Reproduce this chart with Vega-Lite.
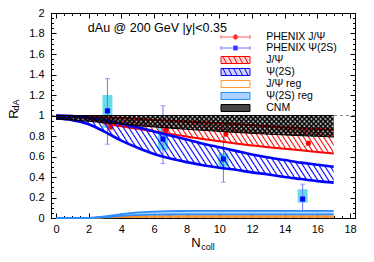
{
"$schema":"https://vega.github.io/schema/vega-lite/v6.json",
"width":304,"height":205,
"autosize":{"type":"none"},
"padding":{"left":51,"top":13,"right":19,"bottom":44},
"background":"white",
"datasets":{
"phenix":[
{"series":"PHENIX J/Ψ","ncoll":3.35,"val":0.89,"statlo":0.86,"stathi":0.92},
{"series":"PHENIX J/Ψ","ncoll":6.75,"val":0.86,"statlo":0.83,"stathi":0.89},
{"series":"PHENIX J/Ψ","ncoll":10.4,"val":0.82,"statlo":0.8,"stathi":0.84},
{"series":"PHENIX J/Ψ","ncoll":15.45,"val":0.73,"statlo":0.71,"stathi":0.75},
{"series":"PHENIX Ψ(2S)","ncoll":3.15,"val":1.045,"statlo":0.72,"stathi":1.36,"syslo":0.88,"syshi":1.2},
{"series":"PHENIX Ψ(2S)","ncoll":6.55,"val":0.77,"statlo":0.53,"stathi":1.095,"syslo":0.66,"syshi":0.89},
{"series":"PHENIX Ψ(2S)","ncoll":10.25,"val":0.575,"statlo":0.35,"stathi":0.79,"syslo":0.5,"syshi":0.63},
{"series":"PHENIX Ψ(2S)","ncoll":15.1,"val":0.185,"statlo":0.03,"stathi":0.33,"syslo":0.15,"syshi":0.28}
],
"bands":[
{"band":"J/Ψ","ncoll":0,"lo":0.99,"hi":1},
{"band":"J/Ψ","ncoll":1,"lo":0.985,"hi":0.995},
{"band":"J/Ψ","ncoll":2,"lo":0.965,"hi":0.99},
{"band":"J/Ψ","ncoll":3,"lo":0.925,"hi":0.982},
{"band":"J/Ψ","ncoll":4,"lo":0.895,"hi":0.975},
{"band":"J/Ψ","ncoll":5,"lo":0.87,"hi":0.966},
{"band":"J/Ψ","ncoll":6,"lo":0.845,"hi":0.957},
{"band":"J/Ψ","ncoll":7,"lo":0.82,"hi":0.949},
{"band":"J/Ψ","ncoll":8,"lo":0.795,"hi":0.941},
{"band":"J/Ψ","ncoll":9,"lo":0.77,"hi":0.933},
{"band":"J/Ψ","ncoll":10,"lo":0.748,"hi":0.925},
{"band":"J/Ψ","ncoll":11,"lo":0.727,"hi":0.916},
{"band":"J/Ψ","ncoll":12,"lo":0.708,"hi":0.906},
{"band":"J/Ψ","ncoll":13,"lo":0.69,"hi":0.896},
{"band":"J/Ψ","ncoll":14,"lo":0.675,"hi":0.886},
{"band":"J/Ψ","ncoll":15,"lo":0.66,"hi":0.877},
{"band":"J/Ψ","ncoll":16,"lo":0.645,"hi":0.868},
{"band":"J/Ψ","ncoll":17,"lo":0.63,"hi":0.86},
{"band":"Ψ(2S)","ncoll":0,"lo":0.97,"hi":1},
{"band":"Ψ(2S)","ncoll":1,"lo":0.955,"hi":0.995},
{"band":"Ψ(2S)","ncoll":2,"lo":0.915,"hi":0.98},
{"band":"Ψ(2S)","ncoll":3,"lo":0.84,"hi":0.955},
{"band":"Ψ(2S)","ncoll":4,"lo":0.755,"hi":0.92},
{"band":"Ψ(2S)","ncoll":5,"lo":0.685,"hi":0.885},
{"band":"Ψ(2S)","ncoll":6,"lo":0.625,"hi":0.845},
{"band":"Ψ(2S)","ncoll":7,"lo":0.58,"hi":0.805},
{"band":"Ψ(2S)","ncoll":8,"lo":0.545,"hi":0.765},
{"band":"Ψ(2S)","ncoll":9,"lo":0.515,"hi":0.725},
{"band":"Ψ(2S)","ncoll":10,"lo":0.49,"hi":0.69},
{"band":"Ψ(2S)","ncoll":11,"lo":0.47,"hi":0.655},
{"band":"Ψ(2S)","ncoll":12,"lo":0.445,"hi":0.62},
{"band":"Ψ(2S)","ncoll":13,"lo":0.425,"hi":0.59},
{"band":"Ψ(2S)","ncoll":14,"lo":0.4,"hi":0.565},
{"band":"Ψ(2S)","ncoll":15,"lo":0.38,"hi":0.54},
{"band":"Ψ(2S)","ncoll":16,"lo":0.36,"hi":0.52},
{"band":"Ψ(2S)","ncoll":17,"lo":0.345,"hi":0.5},
{"band":"CNM","ncoll":0,"lo":0.965,"hi":1},
{"band":"CNM","ncoll":1,"lo":0.955,"hi":1},
{"band":"CNM","ncoll":2,"lo":0.943,"hi":1},
{"band":"CNM","ncoll":3,"lo":0.93,"hi":1},
{"band":"CNM","ncoll":4,"lo":0.915,"hi":1},
{"band":"CNM","ncoll":5,"lo":0.9,"hi":1},
{"band":"CNM","ncoll":6,"lo":0.888,"hi":1},
{"band":"CNM","ncoll":7,"lo":0.876,"hi":1},
{"band":"CNM","ncoll":8,"lo":0.865,"hi":1},
{"band":"CNM","ncoll":9,"lo":0.855,"hi":1},
{"band":"CNM","ncoll":10,"lo":0.845,"hi":1},
{"band":"CNM","ncoll":11,"lo":0.835,"hi":1},
{"band":"CNM","ncoll":12,"lo":0.826,"hi":1},
{"band":"CNM","ncoll":13,"lo":0.818,"hi":1},
{"band":"CNM","ncoll":14,"lo":0.81,"hi":1},
{"band":"CNM","ncoll":15,"lo":0.803,"hi":1},
{"band":"CNM","ncoll":16,"lo":0.797,"hi":1},
{"band":"CNM","ncoll":17,"lo":0.79,"hi":1},
{"band":"J/Ψ reg","ncoll":0,"lo":0,"hi":0},
{"band":"J/Ψ reg","ncoll":1,"lo":0,"hi":0},
{"band":"J/Ψ reg","ncoll":2,"lo":0,"hi":0.001},
{"band":"J/Ψ reg","ncoll":3,"lo":0.003,"hi":0.006},
{"band":"J/Ψ reg","ncoll":4,"lo":0.006,"hi":0.013},
{"band":"J/Ψ reg","ncoll":5,"lo":0.008,"hi":0.017},
{"band":"J/Ψ reg","ncoll":6,"lo":0.009,"hi":0.019},
{"band":"J/Ψ reg","ncoll":7,"lo":0.01,"hi":0.02},
{"band":"J/Ψ reg","ncoll":8,"lo":0.01,"hi":0.02},
{"band":"J/Ψ reg","ncoll":9,"lo":0.01,"hi":0.02},
{"band":"J/Ψ reg","ncoll":10,"lo":0.01,"hi":0.02},
{"band":"J/Ψ reg","ncoll":11,"lo":0.01,"hi":0.02},
{"band":"J/Ψ reg","ncoll":12,"lo":0.01,"hi":0.02},
{"band":"J/Ψ reg","ncoll":13,"lo":0.01,"hi":0.02},
{"band":"J/Ψ reg","ncoll":14,"lo":0.01,"hi":0.02},
{"band":"J/Ψ reg","ncoll":15,"lo":0.01,"hi":0.02},
{"band":"J/Ψ reg","ncoll":16,"lo":0.01,"hi":0.02},
{"band":"J/Ψ reg","ncoll":17,"lo":0.01,"hi":0.02},
{"band":"Ψ(2S) reg","ncoll":0,"lo":0,"hi":0},
{"band":"Ψ(2S) reg","ncoll":1,"lo":0,"hi":0},
{"band":"Ψ(2S) reg","ncoll":2,"lo":0,"hi":0.002},
{"band":"Ψ(2S) reg","ncoll":3,"lo":0.008,"hi":0.015},
{"band":"Ψ(2S) reg","ncoll":4,"lo":0.02,"hi":0.038},
{"band":"Ψ(2S) reg","ncoll":5,"lo":0.028,"hi":0.055},
{"band":"Ψ(2S) reg","ncoll":6,"lo":0.032,"hi":0.063},
{"band":"Ψ(2S) reg","ncoll":7,"lo":0.034,"hi":0.067},
{"band":"Ψ(2S) reg","ncoll":8,"lo":0.035,"hi":0.069},
{"band":"Ψ(2S) reg","ncoll":9,"lo":0.035,"hi":0.07},
{"band":"Ψ(2S) reg","ncoll":10,"lo":0.035,"hi":0.07},
{"band":"Ψ(2S) reg","ncoll":11,"lo":0.035,"hi":0.07},
{"band":"Ψ(2S) reg","ncoll":12,"lo":0.035,"hi":0.07},
{"band":"Ψ(2S) reg","ncoll":13,"lo":0.035,"hi":0.07},
{"band":"Ψ(2S) reg","ncoll":14,"lo":0.035,"hi":0.07},
{"band":"Ψ(2S) reg","ncoll":15,"lo":0.035,"hi":0.07},
{"band":"Ψ(2S) reg","ncoll":16,"lo":0.035,"hi":0.07},
{"band":"Ψ(2S) reg","ncoll":17,"lo":0.035,"hi":0.07}
],
"leg":[{"name":"PHENIX J/Ψ"},{"name":"PHENIX Ψ(2S)"},{"name":"J/Ψ"},{"name":"Ψ(2S)"},{"name":"J/Ψ reg"},{"name":"Ψ(2S) reg"},{"name":"CNM"}]
},
"resolve":{"axis":{"x":"independent","y":"independent"}},
"layer":[
{"data":{"values":[{}]},"mark":{"type":"rule","stroke":"#8c8c8c","strokeDash":[3,3],"strokeWidth":1},
 "encoding":{"y":{"datum":1,"type":"quantitative","scale":{"domain":[0,2],"nice":false},"axis":null}}},
{"data":{"name":"phenix"},"transform":[{"filter":"datum.syslo != null"}],
 "mark":{"type":"bar","width":10,"fill":"#4fd6e8","opacity":0.85},
 "encoding":{"x":{"field":"ncoll","type":"quantitative","scale":{"domain":[0,18],"nice":false},"axis":null},
  "y":{"field":"syslo","type":"quantitative","scale":{"domain":[0,2],"nice":false},"axis":null},"y2":{"field":"syshi"}}},
{"data":{"name":"phenix"},"mark":{"type":"rule","strokeWidth":1},
 "encoding":{"x":{"field":"ncoll","type":"quantitative","scale":{"domain":[0,18],"nice":false},"axis":null},
  "y":{"field":"statlo","type":"quantitative","scale":{"domain":[0,2],"nice":false},"axis":null},"y2":{"field":"stathi"},
  "color":{"condition":{"test":"datum.series === 'PHENIX J/Ψ'","value":"#ff5a5a"},"value":"#7272ff"}}},
{"data":{"name":"phenix"},"transform":[{"fold":["statlo","stathi"],"as":["end","yv"]}],
 "mark":{"type":"tick","orient":"horizontal","size":5,"thickness":1},
 "encoding":{"x":{"field":"ncoll","type":"quantitative","scale":{"domain":[0,18],"nice":false},"axis":null},
  "y":{"field":"yv","type":"quantitative","scale":{"domain":[0,2],"nice":false},"axis":null},
  "color":{"condition":{"test":"datum.series === 'PHENIX J/Ψ'","value":"#ff5a5a"},"value":"#7272ff"}}},
{"data":{"name":"phenix"},"mark":{"type":"point","filled":true,"size":26,"opacity":1},
 "encoding":{"x":{"field":"ncoll","type":"quantitative","scale":{"domain":[0,18],"nice":false},"axis":null},
  "y":{"field":"val","type":"quantitative","scale":{"domain":[0,2],"nice":false},"axis":null},
  "color":{"condition":{"test":"datum.series === 'PHENIX J/Ψ'","value":"#ff0000"},"value":"#0000ff"},
  "shape":{"condition":{"test":"datum.series === 'PHENIX J/Ψ'","value":"circle"},"value":"square"}}},
{"data":{"name":"bands"},"transform":[{"filter":"datum.band === 'J/Ψ reg'"}],
 "mark":{"type":"area","interpolate":"monotone","fill":"#ffc58a","opacity":0.8},
 "encoding":{"x":{"field":"ncoll","type":"quantitative","scale":{"domain":[0,18],"nice":false},"axis":null},
  "y":{"field":"lo","type":"quantitative","scale":{"domain":[0,2],"nice":false},"axis":null},"y2":{"field":"hi"}}},
{"data":{"name":"bands"},"transform":[{"filter":"datum.band === 'J/Ψ reg'"},{"fold":["lo","hi"],"as":["edge","yv"]}],
 "mark":{"type":"line","interpolate":"monotone","stroke":"#ff8c1a","strokeWidth":1.3},
 "encoding":{"x":{"field":"ncoll","type":"quantitative","scale":{"domain":[0,18],"nice":false},"axis":null},
  "y":{"field":"yv","type":"quantitative","scale":{"domain":[0,2],"nice":false},"axis":null},"detail":{"field":"edge"}}},
{"data":{"name":"bands"},"transform":[{"filter":"datum.band === 'Ψ(2S) reg'"}],
 "mark":{"type":"area","interpolate":"monotone","fill":"#a9d3ff","opacity":0.9},
 "encoding":{"x":{"field":"ncoll","type":"quantitative","scale":{"domain":[0,18],"nice":false},
   "axis":{"orient":"top","values":[0,0.5,1,1.5,2,2.5,3,3.5,4,4.5,5,5.5,6,6.5,7,7.5,8,8.5,9,9.5,10,10.5,11,11.5,12,12.5,13,13.5,14,14.5,15,15.5,16,16.5,17,17.5,18],"labels":false,"tickSize":-2.5,"domain":false,"title":null}},
  "y":{"field":"lo","type":"quantitative","scale":{"domain":[0,2],"nice":false},
   "axis":{"orient":"right","values":[0,0.05,0.1,0.15,0.2,0.25,0.3,0.35,0.4,0.45,0.5,0.55,0.6,0.65,0.7,0.75,0.8,0.85,0.9,0.95,1,1.05,1.1,1.15,1.2,1.25,1.3,1.35,1.4,1.45,1.5,1.55,1.6,1.65,1.7,1.75,1.8,1.85,1.9,1.95,2],"labels":false,"tickSize":-2.5,"domain":false,"title":null}},
  "y2":{"field":"hi"}}},
{"data":{"name":"bands"},"transform":[{"filter":"datum.band === 'Ψ(2S) reg'"},{"fold":["lo","hi"],"as":["edge","yv"]}],
 "mark":{"type":"line","interpolate":"monotone","stroke":"#2b8cff","strokeWidth":1.8},
 "encoding":{"x":{"field":"ncoll","type":"quantitative","scale":{"domain":[0,18],"nice":false},"axis":null},
  "y":{"field":"yv","type":"quantitative","scale":{"domain":[0,2],"nice":false},"axis":null},"detail":{"field":"edge"}}},
{"data":{"name":"bands"},"transform":[{"filter":"datum.band === 'J/Ψ'"}],
 "mark":{"type":"area","interpolate":"monotone","fill":{"gradient":"linear","x1":0,"y1":1,"x2":1.0797,"y2":0.905,"stops":[
{"offset":0,"color":"rgba(255,0,0,0)"},{"offset":0.004,"color":"#ff0000"},{"offset":0.008,"color":"rgba(255,0,0,0)"},
{"offset":0.0167,"color":"rgba(255,0,0,0)"},{"offset":0.0207,"color":"#ff0000"},{"offset":0.0247,"color":"rgba(255,0,0,0)"},
{"offset":0.0333,"color":"rgba(255,0,0,0)"},{"offset":0.0373,"color":"#ff0000"},{"offset":0.0413,"color":"rgba(255,0,0,0)"},
{"offset":0.05,"color":"rgba(255,0,0,0)"},{"offset":0.054,"color":"#ff0000"},{"offset":0.058,"color":"rgba(255,0,0,0)"},
{"offset":0.0667,"color":"rgba(255,0,0,0)"},{"offset":0.0707,"color":"#ff0000"},{"offset":0.0747,"color":"rgba(255,0,0,0)"},
{"offset":0.0833,"color":"rgba(255,0,0,0)"},{"offset":0.0873,"color":"#ff0000"},{"offset":0.0913,"color":"rgba(255,0,0,0)"},
{"offset":0.1,"color":"rgba(255,0,0,0)"},{"offset":0.104,"color":"#ff0000"},{"offset":0.108,"color":"rgba(255,0,0,0)"},
{"offset":0.1167,"color":"rgba(255,0,0,0)"},{"offset":0.1207,"color":"#ff0000"},{"offset":0.1247,"color":"rgba(255,0,0,0)"},
{"offset":0.1333,"color":"rgba(255,0,0,0)"},{"offset":0.1373,"color":"#ff0000"},{"offset":0.1413,"color":"rgba(255,0,0,0)"},
{"offset":0.15,"color":"rgba(255,0,0,0)"},{"offset":0.154,"color":"#ff0000"},{"offset":0.158,"color":"rgba(255,0,0,0)"},
{"offset":0.1667,"color":"rgba(255,0,0,0)"},{"offset":0.1707,"color":"#ff0000"},{"offset":0.1747,"color":"rgba(255,0,0,0)"},
{"offset":0.1833,"color":"rgba(255,0,0,0)"},{"offset":0.1873,"color":"#ff0000"},{"offset":0.1913,"color":"rgba(255,0,0,0)"},
{"offset":0.2,"color":"rgba(255,0,0,0)"},{"offset":0.204,"color":"#ff0000"},{"offset":0.208,"color":"rgba(255,0,0,0)"},
{"offset":0.2167,"color":"rgba(255,0,0,0)"},{"offset":0.2207,"color":"#ff0000"},{"offset":0.2247,"color":"rgba(255,0,0,0)"},
{"offset":0.2333,"color":"rgba(255,0,0,0)"},{"offset":0.2373,"color":"#ff0000"},{"offset":0.2413,"color":"rgba(255,0,0,0)"},
{"offset":0.25,"color":"rgba(255,0,0,0)"},{"offset":0.254,"color":"#ff0000"},{"offset":0.258,"color":"rgba(255,0,0,0)"},
{"offset":0.2667,"color":"rgba(255,0,0,0)"},{"offset":0.2707,"color":"#ff0000"},{"offset":0.2747,"color":"rgba(255,0,0,0)"},
{"offset":0.2833,"color":"rgba(255,0,0,0)"},{"offset":0.2873,"color":"#ff0000"},{"offset":0.2913,"color":"rgba(255,0,0,0)"},
{"offset":0.3,"color":"rgba(255,0,0,0)"},{"offset":0.304,"color":"#ff0000"},{"offset":0.308,"color":"rgba(255,0,0,0)"},
{"offset":0.3167,"color":"rgba(255,0,0,0)"},{"offset":0.3207,"color":"#ff0000"},{"offset":0.3247,"color":"rgba(255,0,0,0)"},
{"offset":0.3333,"color":"rgba(255,0,0,0)"},{"offset":0.3373,"color":"#ff0000"},{"offset":0.3413,"color":"rgba(255,0,0,0)"},
{"offset":0.35,"color":"rgba(255,0,0,0)"},{"offset":0.354,"color":"#ff0000"},{"offset":0.358,"color":"rgba(255,0,0,0)"},
{"offset":0.3667,"color":"rgba(255,0,0,0)"},{"offset":0.3707,"color":"#ff0000"},{"offset":0.3747,"color":"rgba(255,0,0,0)"},
{"offset":0.3833,"color":"rgba(255,0,0,0)"},{"offset":0.3873,"color":"#ff0000"},{"offset":0.3913,"color":"rgba(255,0,0,0)"},
{"offset":0.4,"color":"rgba(255,0,0,0)"},{"offset":0.404,"color":"#ff0000"},{"offset":0.408,"color":"rgba(255,0,0,0)"},
{"offset":0.4167,"color":"rgba(255,0,0,0)"},{"offset":0.4207,"color":"#ff0000"},{"offset":0.4247,"color":"rgba(255,0,0,0)"},
{"offset":0.4333,"color":"rgba(255,0,0,0)"},{"offset":0.4373,"color":"#ff0000"},{"offset":0.4413,"color":"rgba(255,0,0,0)"},
{"offset":0.45,"color":"rgba(255,0,0,0)"},{"offset":0.454,"color":"#ff0000"},{"offset":0.458,"color":"rgba(255,0,0,0)"},
{"offset":0.4667,"color":"rgba(255,0,0,0)"},{"offset":0.4707,"color":"#ff0000"},{"offset":0.4747,"color":"rgba(255,0,0,0)"},
{"offset":0.4833,"color":"rgba(255,0,0,0)"},{"offset":0.4873,"color":"#ff0000"},{"offset":0.4913,"color":"rgba(255,0,0,0)"},
{"offset":0.5,"color":"rgba(255,0,0,0)"},{"offset":0.504,"color":"#ff0000"},{"offset":0.508,"color":"rgba(255,0,0,0)"},
{"offset":0.5167,"color":"rgba(255,0,0,0)"},{"offset":0.5207,"color":"#ff0000"},{"offset":0.5247,"color":"rgba(255,0,0,0)"},
{"offset":0.5333,"color":"rgba(255,0,0,0)"},{"offset":0.5373,"color":"#ff0000"},{"offset":0.5413,"color":"rgba(255,0,0,0)"},
{"offset":0.55,"color":"rgba(255,0,0,0)"},{"offset":0.554,"color":"#ff0000"},{"offset":0.558,"color":"rgba(255,0,0,0)"},
{"offset":0.5667,"color":"rgba(255,0,0,0)"},{"offset":0.5707,"color":"#ff0000"},{"offset":0.5747,"color":"rgba(255,0,0,0)"},
{"offset":0.5833,"color":"rgba(255,0,0,0)"},{"offset":0.5873,"color":"#ff0000"},{"offset":0.5913,"color":"rgba(255,0,0,0)"},
{"offset":0.6,"color":"rgba(255,0,0,0)"},{"offset":0.604,"color":"#ff0000"},{"offset":0.608,"color":"rgba(255,0,0,0)"},
{"offset":0.6167,"color":"rgba(255,0,0,0)"},{"offset":0.6207,"color":"#ff0000"},{"offset":0.6247,"color":"rgba(255,0,0,0)"},
{"offset":0.6333,"color":"rgba(255,0,0,0)"},{"offset":0.6373,"color":"#ff0000"},{"offset":0.6413,"color":"rgba(255,0,0,0)"},
{"offset":0.65,"color":"rgba(255,0,0,0)"},{"offset":0.654,"color":"#ff0000"},{"offset":0.658,"color":"rgba(255,0,0,0)"},
{"offset":0.6667,"color":"rgba(255,0,0,0)"},{"offset":0.6707,"color":"#ff0000"},{"offset":0.6747,"color":"rgba(255,0,0,0)"},
{"offset":0.6833,"color":"rgba(255,0,0,0)"},{"offset":0.6873,"color":"#ff0000"},{"offset":0.6913,"color":"rgba(255,0,0,0)"},
{"offset":0.7,"color":"rgba(255,0,0,0)"},{"offset":0.704,"color":"#ff0000"},{"offset":0.708,"color":"rgba(255,0,0,0)"},
{"offset":0.7167,"color":"rgba(255,0,0,0)"},{"offset":0.7207,"color":"#ff0000"},{"offset":0.7247,"color":"rgba(255,0,0,0)"},
{"offset":0.7333,"color":"rgba(255,0,0,0)"},{"offset":0.7373,"color":"#ff0000"},{"offset":0.7413,"color":"rgba(255,0,0,0)"},
{"offset":0.75,"color":"rgba(255,0,0,0)"},{"offset":0.754,"color":"#ff0000"},{"offset":0.758,"color":"rgba(255,0,0,0)"},
{"offset":0.7667,"color":"rgba(255,0,0,0)"},{"offset":0.7707,"color":"#ff0000"},{"offset":0.7747,"color":"rgba(255,0,0,0)"},
{"offset":0.7833,"color":"rgba(255,0,0,0)"},{"offset":0.7873,"color":"#ff0000"},{"offset":0.7913,"color":"rgba(255,0,0,0)"},
{"offset":0.8,"color":"rgba(255,0,0,0)"},{"offset":0.804,"color":"#ff0000"},{"offset":0.808,"color":"rgba(255,0,0,0)"},
{"offset":0.8167,"color":"rgba(255,0,0,0)"},{"offset":0.8207,"color":"#ff0000"},{"offset":0.8247,"color":"rgba(255,0,0,0)"},
{"offset":0.8333,"color":"rgba(255,0,0,0)"},{"offset":0.8373,"color":"#ff0000"},{"offset":0.8413,"color":"rgba(255,0,0,0)"},
{"offset":0.85,"color":"rgba(255,0,0,0)"},{"offset":0.854,"color":"#ff0000"},{"offset":0.858,"color":"rgba(255,0,0,0)"},
{"offset":0.8667,"color":"rgba(255,0,0,0)"},{"offset":0.8707,"color":"#ff0000"},{"offset":0.8747,"color":"rgba(255,0,0,0)"},
{"offset":0.8833,"color":"rgba(255,0,0,0)"},{"offset":0.8873,"color":"#ff0000"},{"offset":0.8913,"color":"rgba(255,0,0,0)"},
{"offset":0.9,"color":"rgba(255,0,0,0)"},{"offset":0.904,"color":"#ff0000"},{"offset":0.908,"color":"rgba(255,0,0,0)"},
{"offset":0.9167,"color":"rgba(255,0,0,0)"},{"offset":0.9207,"color":"#ff0000"},{"offset":0.9247,"color":"rgba(255,0,0,0)"},
{"offset":0.9333,"color":"rgba(255,0,0,0)"},{"offset":0.9373,"color":"#ff0000"},{"offset":0.9413,"color":"rgba(255,0,0,0)"},
{"offset":0.95,"color":"rgba(255,0,0,0)"},{"offset":0.954,"color":"#ff0000"},{"offset":0.958,"color":"rgba(255,0,0,0)"},
{"offset":0.9667,"color":"rgba(255,0,0,0)"},{"offset":0.9707,"color":"#ff0000"},{"offset":0.9747,"color":"rgba(255,0,0,0)"},
{"offset":0.9833,"color":"rgba(255,0,0,0)"},{"offset":0.9873,"color":"#ff0000"},{"offset":0.9913,"color":"rgba(255,0,0,0)"}
]}},
 "encoding":{"x":{"field":"ncoll","type":"quantitative","scale":{"domain":[0,18],"nice":false},
   "axis":{"orient":"bottom","values":[0,2,4,6,8,10,12,14,16,18],"format":"d","labelFontSize":11,"labelPadding":10,"tickSize":-5,"labelFlush":false,"labelOverlap":false,"title":"N","titleFontSize":13,"titleX":144.5,"titleY":24,"titleAlign":"center","titleBaseline":"middle","titleAngle":0}},
  "y":{"field":"lo","type":"quantitative","scale":{"domain":[0,2],"nice":false},
   "axis":{"orient":"left","values":[0,0.2,0.4,0.6,0.8,1,1.2,1.4,1.6,1.8,2],"format":".1~f","labelFontSize":11,"labelPadding":12,"tickSize":-5,"labelFlush":false,"labelOverlap":false,"title":"R","titleFontSize":13,"titleX":-37.5,"titleY":100.5,"titleAlign":"center","titleBaseline":"middle","titleAngle":-90}},
  "y2":{"field":"hi"}}},
{"data":{"name":"bands"},"transform":[{"filter":"datum.band === 'J/Ψ'"},{"fold":["lo","hi"],"as":["edge","yv"]}],
 "mark":{"type":"line","interpolate":"monotone","stroke":"#ff0000","strokeWidth":2},
 "encoding":{"x":{"field":"ncoll","type":"quantitative","scale":{"domain":[0,18],"nice":false},"axis":null},
  "y":{"field":"yv","type":"quantitative","scale":{"domain":[0,2],"nice":false},"axis":null},"detail":{"field":"edge"}}},
{"data":{"name":"bands"},"transform":[{"filter":"datum.band === 'Ψ(2S)'"}],
 "mark":{"type":"area","interpolate":"monotone","fill":{"gradient":"linear","x1":0,"y1":1,"x2":1.1284,"y2":0.8242,"stops":[
{"offset":0,"color":"rgba(0,0,255,0)"},{"offset":0.004,"color":"#0000ff"},{"offset":0.008,"color":"rgba(0,0,255,0)"},
{"offset":0.0167,"color":"rgba(0,0,255,0)"},{"offset":0.0207,"color":"#0000ff"},{"offset":0.0247,"color":"rgba(0,0,255,0)"},
{"offset":0.0333,"color":"rgba(0,0,255,0)"},{"offset":0.0373,"color":"#0000ff"},{"offset":0.0413,"color":"rgba(0,0,255,0)"},
{"offset":0.05,"color":"rgba(0,0,255,0)"},{"offset":0.054,"color":"#0000ff"},{"offset":0.058,"color":"rgba(0,0,255,0)"},
{"offset":0.0667,"color":"rgba(0,0,255,0)"},{"offset":0.0707,"color":"#0000ff"},{"offset":0.0747,"color":"rgba(0,0,255,0)"},
{"offset":0.0833,"color":"rgba(0,0,255,0)"},{"offset":0.0873,"color":"#0000ff"},{"offset":0.0913,"color":"rgba(0,0,255,0)"},
{"offset":0.1,"color":"rgba(0,0,255,0)"},{"offset":0.104,"color":"#0000ff"},{"offset":0.108,"color":"rgba(0,0,255,0)"},
{"offset":0.1167,"color":"rgba(0,0,255,0)"},{"offset":0.1207,"color":"#0000ff"},{"offset":0.1247,"color":"rgba(0,0,255,0)"},
{"offset":0.1333,"color":"rgba(0,0,255,0)"},{"offset":0.1373,"color":"#0000ff"},{"offset":0.1413,"color":"rgba(0,0,255,0)"},
{"offset":0.15,"color":"rgba(0,0,255,0)"},{"offset":0.154,"color":"#0000ff"},{"offset":0.158,"color":"rgba(0,0,255,0)"},
{"offset":0.1667,"color":"rgba(0,0,255,0)"},{"offset":0.1707,"color":"#0000ff"},{"offset":0.1747,"color":"rgba(0,0,255,0)"},
{"offset":0.1833,"color":"rgba(0,0,255,0)"},{"offset":0.1873,"color":"#0000ff"},{"offset":0.1913,"color":"rgba(0,0,255,0)"},
{"offset":0.2,"color":"rgba(0,0,255,0)"},{"offset":0.204,"color":"#0000ff"},{"offset":0.208,"color":"rgba(0,0,255,0)"},
{"offset":0.2167,"color":"rgba(0,0,255,0)"},{"offset":0.2207,"color":"#0000ff"},{"offset":0.2247,"color":"rgba(0,0,255,0)"},
{"offset":0.2333,"color":"rgba(0,0,255,0)"},{"offset":0.2373,"color":"#0000ff"},{"offset":0.2413,"color":"rgba(0,0,255,0)"},
{"offset":0.25,"color":"rgba(0,0,255,0)"},{"offset":0.254,"color":"#0000ff"},{"offset":0.258,"color":"rgba(0,0,255,0)"},
{"offset":0.2667,"color":"rgba(0,0,255,0)"},{"offset":0.2707,"color":"#0000ff"},{"offset":0.2747,"color":"rgba(0,0,255,0)"},
{"offset":0.2833,"color":"rgba(0,0,255,0)"},{"offset":0.2873,"color":"#0000ff"},{"offset":0.2913,"color":"rgba(0,0,255,0)"},
{"offset":0.3,"color":"rgba(0,0,255,0)"},{"offset":0.304,"color":"#0000ff"},{"offset":0.308,"color":"rgba(0,0,255,0)"},
{"offset":0.3167,"color":"rgba(0,0,255,0)"},{"offset":0.3207,"color":"#0000ff"},{"offset":0.3247,"color":"rgba(0,0,255,0)"},
{"offset":0.3333,"color":"rgba(0,0,255,0)"},{"offset":0.3373,"color":"#0000ff"},{"offset":0.3413,"color":"rgba(0,0,255,0)"},
{"offset":0.35,"color":"rgba(0,0,255,0)"},{"offset":0.354,"color":"#0000ff"},{"offset":0.358,"color":"rgba(0,0,255,0)"},
{"offset":0.3667,"color":"rgba(0,0,255,0)"},{"offset":0.3707,"color":"#0000ff"},{"offset":0.3747,"color":"rgba(0,0,255,0)"},
{"offset":0.3833,"color":"rgba(0,0,255,0)"},{"offset":0.3873,"color":"#0000ff"},{"offset":0.3913,"color":"rgba(0,0,255,0)"},
{"offset":0.4,"color":"rgba(0,0,255,0)"},{"offset":0.404,"color":"#0000ff"},{"offset":0.408,"color":"rgba(0,0,255,0)"},
{"offset":0.4167,"color":"rgba(0,0,255,0)"},{"offset":0.4207,"color":"#0000ff"},{"offset":0.4247,"color":"rgba(0,0,255,0)"},
{"offset":0.4333,"color":"rgba(0,0,255,0)"},{"offset":0.4373,"color":"#0000ff"},{"offset":0.4413,"color":"rgba(0,0,255,0)"},
{"offset":0.45,"color":"rgba(0,0,255,0)"},{"offset":0.454,"color":"#0000ff"},{"offset":0.458,"color":"rgba(0,0,255,0)"},
{"offset":0.4667,"color":"rgba(0,0,255,0)"},{"offset":0.4707,"color":"#0000ff"},{"offset":0.4747,"color":"rgba(0,0,255,0)"},
{"offset":0.4833,"color":"rgba(0,0,255,0)"},{"offset":0.4873,"color":"#0000ff"},{"offset":0.4913,"color":"rgba(0,0,255,0)"},
{"offset":0.5,"color":"rgba(0,0,255,0)"},{"offset":0.504,"color":"#0000ff"},{"offset":0.508,"color":"rgba(0,0,255,0)"},
{"offset":0.5167,"color":"rgba(0,0,255,0)"},{"offset":0.5207,"color":"#0000ff"},{"offset":0.5247,"color":"rgba(0,0,255,0)"},
{"offset":0.5333,"color":"rgba(0,0,255,0)"},{"offset":0.5373,"color":"#0000ff"},{"offset":0.5413,"color":"rgba(0,0,255,0)"},
{"offset":0.55,"color":"rgba(0,0,255,0)"},{"offset":0.554,"color":"#0000ff"},{"offset":0.558,"color":"rgba(0,0,255,0)"},
{"offset":0.5667,"color":"rgba(0,0,255,0)"},{"offset":0.5707,"color":"#0000ff"},{"offset":0.5747,"color":"rgba(0,0,255,0)"},
{"offset":0.5833,"color":"rgba(0,0,255,0)"},{"offset":0.5873,"color":"#0000ff"},{"offset":0.5913,"color":"rgba(0,0,255,0)"},
{"offset":0.6,"color":"rgba(0,0,255,0)"},{"offset":0.604,"color":"#0000ff"},{"offset":0.608,"color":"rgba(0,0,255,0)"},
{"offset":0.6167,"color":"rgba(0,0,255,0)"},{"offset":0.6207,"color":"#0000ff"},{"offset":0.6247,"color":"rgba(0,0,255,0)"},
{"offset":0.6333,"color":"rgba(0,0,255,0)"},{"offset":0.6373,"color":"#0000ff"},{"offset":0.6413,"color":"rgba(0,0,255,0)"},
{"offset":0.65,"color":"rgba(0,0,255,0)"},{"offset":0.654,"color":"#0000ff"},{"offset":0.658,"color":"rgba(0,0,255,0)"},
{"offset":0.6667,"color":"rgba(0,0,255,0)"},{"offset":0.6707,"color":"#0000ff"},{"offset":0.6747,"color":"rgba(0,0,255,0)"},
{"offset":0.6833,"color":"rgba(0,0,255,0)"},{"offset":0.6873,"color":"#0000ff"},{"offset":0.6913,"color":"rgba(0,0,255,0)"},
{"offset":0.7,"color":"rgba(0,0,255,0)"},{"offset":0.704,"color":"#0000ff"},{"offset":0.708,"color":"rgba(0,0,255,0)"},
{"offset":0.7167,"color":"rgba(0,0,255,0)"},{"offset":0.7207,"color":"#0000ff"},{"offset":0.7247,"color":"rgba(0,0,255,0)"},
{"offset":0.7333,"color":"rgba(0,0,255,0)"},{"offset":0.7373,"color":"#0000ff"},{"offset":0.7413,"color":"rgba(0,0,255,0)"},
{"offset":0.75,"color":"rgba(0,0,255,0)"},{"offset":0.754,"color":"#0000ff"},{"offset":0.758,"color":"rgba(0,0,255,0)"},
{"offset":0.7667,"color":"rgba(0,0,255,0)"},{"offset":0.7707,"color":"#0000ff"},{"offset":0.7747,"color":"rgba(0,0,255,0)"},
{"offset":0.7833,"color":"rgba(0,0,255,0)"},{"offset":0.7873,"color":"#0000ff"},{"offset":0.7913,"color":"rgba(0,0,255,0)"},
{"offset":0.8,"color":"rgba(0,0,255,0)"},{"offset":0.804,"color":"#0000ff"},{"offset":0.808,"color":"rgba(0,0,255,0)"},
{"offset":0.8167,"color":"rgba(0,0,255,0)"},{"offset":0.8207,"color":"#0000ff"},{"offset":0.8247,"color":"rgba(0,0,255,0)"},
{"offset":0.8333,"color":"rgba(0,0,255,0)"},{"offset":0.8373,"color":"#0000ff"},{"offset":0.8413,"color":"rgba(0,0,255,0)"},
{"offset":0.85,"color":"rgba(0,0,255,0)"},{"offset":0.854,"color":"#0000ff"},{"offset":0.858,"color":"rgba(0,0,255,0)"},
{"offset":0.8667,"color":"rgba(0,0,255,0)"},{"offset":0.8707,"color":"#0000ff"},{"offset":0.8747,"color":"rgba(0,0,255,0)"},
{"offset":0.8833,"color":"rgba(0,0,255,0)"},{"offset":0.8873,"color":"#0000ff"},{"offset":0.8913,"color":"rgba(0,0,255,0)"},
{"offset":0.9,"color":"rgba(0,0,255,0)"},{"offset":0.904,"color":"#0000ff"},{"offset":0.908,"color":"rgba(0,0,255,0)"},
{"offset":0.9167,"color":"rgba(0,0,255,0)"},{"offset":0.9207,"color":"#0000ff"},{"offset":0.9247,"color":"rgba(0,0,255,0)"},
{"offset":0.9333,"color":"rgba(0,0,255,0)"},{"offset":0.9373,"color":"#0000ff"},{"offset":0.9413,"color":"rgba(0,0,255,0)"},
{"offset":0.95,"color":"rgba(0,0,255,0)"},{"offset":0.954,"color":"#0000ff"},{"offset":0.958,"color":"rgba(0,0,255,0)"},
{"offset":0.9667,"color":"rgba(0,0,255,0)"},{"offset":0.9707,"color":"#0000ff"},{"offset":0.9747,"color":"rgba(0,0,255,0)"},
{"offset":0.9833,"color":"rgba(0,0,255,0)"},{"offset":0.9873,"color":"#0000ff"},{"offset":0.9913,"color":"rgba(0,0,255,0)"}
]}},
 "encoding":{"x":{"field":"ncoll","type":"quantitative","scale":{"domain":[0,18],"nice":false},
   "axis":{"orient":"top","values":[0,2,4,6,8,10,12,14,16,18],"labels":false,"tickSize":-5,"title":null}},
  "y":{"field":"lo","type":"quantitative","scale":{"domain":[0,2],"nice":false},
   "axis":{"orient":"right","values":[0,0.2,0.4,0.6,0.8,1,1.2,1.4,1.6,1.8,2],"labels":false,"tickSize":-5,"title":null}},
  "y2":{"field":"hi"}}},
{"data":{"name":"bands"},"transform":[{"filter":"datum.band === 'Ψ(2S)'"},{"fold":["lo","hi"],"as":["edge","yv"]}],
 "mark":{"type":"line","interpolate":"monotone","stroke":"#0000ff","strokeWidth":2.6},
 "encoding":{"x":{"field":"ncoll","type":"quantitative","scale":{"domain":[0,18],"nice":false},"axis":null},
  "y":{"field":"yv","type":"quantitative","scale":{"domain":[0,2],"nice":false},"axis":null},"detail":{"field":"edge"}}},
{"data":{"name":"bands"},"transform":[{"filter":"datum.band === 'CNM'"}],
 "mark":{"type":"area","interpolate":"monotone","fill":{"gradient":"linear","x1":0,"y1":1,"x2":1.0688,"y2":0.92,"stops":[
{"offset":0,"color":"#000000"},{"offset":0.0078,"color":"rgba(0,0,0,0)"},{"offset":0.0156,"color":"#000000"},{"offset":0.0234,"color":"rgba(0,0,0,0)"},
{"offset":0.0313,"color":"#000000"},{"offset":0.0391,"color":"rgba(0,0,0,0)"},{"offset":0.0469,"color":"#000000"},{"offset":0.0547,"color":"rgba(0,0,0,0)"},
{"offset":0.0625,"color":"#000000"},{"offset":0.0703,"color":"rgba(0,0,0,0)"},{"offset":0.0781,"color":"#000000"},{"offset":0.0859,"color":"rgba(0,0,0,0)"},
{"offset":0.0938,"color":"#000000"},{"offset":0.1016,"color":"rgba(0,0,0,0)"},{"offset":0.1094,"color":"#000000"},{"offset":0.1172,"color":"rgba(0,0,0,0)"},
{"offset":0.125,"color":"#000000"},{"offset":0.1328,"color":"rgba(0,0,0,0)"},{"offset":0.1406,"color":"#000000"},{"offset":0.1484,"color":"rgba(0,0,0,0)"},
{"offset":0.1563,"color":"#000000"},{"offset":0.1641,"color":"rgba(0,0,0,0)"},{"offset":0.1719,"color":"#000000"},{"offset":0.1797,"color":"rgba(0,0,0,0)"},
{"offset":0.1875,"color":"#000000"},{"offset":0.1953,"color":"rgba(0,0,0,0)"},{"offset":0.2031,"color":"#000000"},{"offset":0.2109,"color":"rgba(0,0,0,0)"},
{"offset":0.2188,"color":"#000000"},{"offset":0.2266,"color":"rgba(0,0,0,0)"},{"offset":0.2344,"color":"#000000"},{"offset":0.2422,"color":"rgba(0,0,0,0)"},
{"offset":0.25,"color":"#000000"},{"offset":0.2578,"color":"rgba(0,0,0,0)"},{"offset":0.2656,"color":"#000000"},{"offset":0.2734,"color":"rgba(0,0,0,0)"},
{"offset":0.2813,"color":"#000000"},{"offset":0.2891,"color":"rgba(0,0,0,0)"},{"offset":0.2969,"color":"#000000"},{"offset":0.3047,"color":"rgba(0,0,0,0)"},
{"offset":0.3125,"color":"#000000"},{"offset":0.3203,"color":"rgba(0,0,0,0)"},{"offset":0.3281,"color":"#000000"},{"offset":0.3359,"color":"rgba(0,0,0,0)"},
{"offset":0.3438,"color":"#000000"},{"offset":0.3516,"color":"rgba(0,0,0,0)"},{"offset":0.3594,"color":"#000000"},{"offset":0.3672,"color":"rgba(0,0,0,0)"},
{"offset":0.375,"color":"#000000"},{"offset":0.3828,"color":"rgba(0,0,0,0)"},{"offset":0.3906,"color":"#000000"},{"offset":0.3984,"color":"rgba(0,0,0,0)"},
{"offset":0.4063,"color":"#000000"},{"offset":0.4141,"color":"rgba(0,0,0,0)"},{"offset":0.4219,"color":"#000000"},{"offset":0.4297,"color":"rgba(0,0,0,0)"},
{"offset":0.4375,"color":"#000000"},{"offset":0.4453,"color":"rgba(0,0,0,0)"},{"offset":0.4531,"color":"#000000"},{"offset":0.4609,"color":"rgba(0,0,0,0)"},
{"offset":0.4688,"color":"#000000"},{"offset":0.4766,"color":"rgba(0,0,0,0)"},{"offset":0.4844,"color":"#000000"},{"offset":0.4922,"color":"rgba(0,0,0,0)"},
{"offset":0.5,"color":"#000000"},{"offset":0.5078,"color":"rgba(0,0,0,0)"},{"offset":0.5156,"color":"#000000"},{"offset":0.5234,"color":"rgba(0,0,0,0)"},
{"offset":0.5313,"color":"#000000"},{"offset":0.5391,"color":"rgba(0,0,0,0)"},{"offset":0.5469,"color":"#000000"},{"offset":0.5547,"color":"rgba(0,0,0,0)"},
{"offset":0.5625,"color":"#000000"},{"offset":0.5703,"color":"rgba(0,0,0,0)"},{"offset":0.5781,"color":"#000000"},{"offset":0.5859,"color":"rgba(0,0,0,0)"},
{"offset":0.5938,"color":"#000000"},{"offset":0.6016,"color":"rgba(0,0,0,0)"},{"offset":0.6094,"color":"#000000"},{"offset":0.6172,"color":"rgba(0,0,0,0)"},
{"offset":0.625,"color":"#000000"},{"offset":0.6328,"color":"rgba(0,0,0,0)"},{"offset":0.6406,"color":"#000000"},{"offset":0.6484,"color":"rgba(0,0,0,0)"},
{"offset":0.6563,"color":"#000000"},{"offset":0.6641,"color":"rgba(0,0,0,0)"},{"offset":0.6719,"color":"#000000"},{"offset":0.6797,"color":"rgba(0,0,0,0)"},
{"offset":0.6875,"color":"#000000"},{"offset":0.6953,"color":"rgba(0,0,0,0)"},{"offset":0.7031,"color":"#000000"},{"offset":0.7109,"color":"rgba(0,0,0,0)"},
{"offset":0.7188,"color":"#000000"},{"offset":0.7266,"color":"rgba(0,0,0,0)"},{"offset":0.7344,"color":"#000000"},{"offset":0.7422,"color":"rgba(0,0,0,0)"},
{"offset":0.75,"color":"#000000"},{"offset":0.7578,"color":"rgba(0,0,0,0)"},{"offset":0.7656,"color":"#000000"},{"offset":0.7734,"color":"rgba(0,0,0,0)"},
{"offset":0.7813,"color":"#000000"},{"offset":0.7891,"color":"rgba(0,0,0,0)"},{"offset":0.7969,"color":"#000000"},{"offset":0.8047,"color":"rgba(0,0,0,0)"},
{"offset":0.8125,"color":"#000000"},{"offset":0.8203,"color":"rgba(0,0,0,0)"},{"offset":0.8281,"color":"#000000"},{"offset":0.8359,"color":"rgba(0,0,0,0)"},
{"offset":0.8438,"color":"#000000"},{"offset":0.8516,"color":"rgba(0,0,0,0)"},{"offset":0.8594,"color":"#000000"},{"offset":0.8672,"color":"rgba(0,0,0,0)"},
{"offset":0.875,"color":"#000000"},{"offset":0.8828,"color":"rgba(0,0,0,0)"},{"offset":0.8906,"color":"#000000"},{"offset":0.8984,"color":"rgba(0,0,0,0)"},
{"offset":0.9063,"color":"#000000"},{"offset":0.9141,"color":"rgba(0,0,0,0)"},{"offset":0.9219,"color":"#000000"},{"offset":0.9297,"color":"rgba(0,0,0,0)"},
{"offset":0.9375,"color":"#000000"},{"offset":0.9453,"color":"rgba(0,0,0,0)"},{"offset":0.9531,"color":"#000000"},{"offset":0.9609,"color":"rgba(0,0,0,0)"},
{"offset":0.9688,"color":"#000000"},{"offset":0.9766,"color":"rgba(0,0,0,0)"},{"offset":0.9844,"color":"#000000"},{"offset":0.9922,"color":"rgba(0,0,0,0)"},
{"offset":1,"color":"#000000"}
]}},
 "encoding":{"x":{"field":"ncoll","type":"quantitative","scale":{"domain":[0,18],"nice":false},
   "axis":{"orient":"bottom","values":[0,0.5,1,1.5,2,2.5,3,3.5,4,4.5,5,5.5,6,6.5,7,7.5,8,8.5,9,9.5,10,10.5,11,11.5,12,12.5,13,13.5,14,14.5,15,15.5,16,16.5,17,17.5,18],"labels":false,"tickSize":-2.5,"domain":false,"title":"coll","titleFontSize":9,"titleX":156.5,"titleY":28.5,"titleAlign":"center","titleBaseline":"middle","titleAngle":0}},
  "y":{"field":"lo","type":"quantitative","scale":{"domain":[0,2],"nice":false},
   "axis":{"orient":"left","values":[0,0.05,0.1,0.15,0.2,0.25,0.3,0.35,0.4,0.45,0.5,0.55,0.6,0.65,0.7,0.75,0.8,0.85,0.9,0.95,1,1.05,1.1,1.15,1.2,1.25,1.3,1.35,1.4,1.45,1.5,1.55,1.6,1.65,1.7,1.75,1.8,1.85,1.9,1.95,2],"labels":false,"tickSize":-2.5,"domain":false,"title":"dA","titleFontSize":9,"titleX":-35.5,"titleY":91.5,"titleAlign":"center","titleBaseline":"middle","titleAngle":-90}},
  "y2":{"field":"hi"}}},
{"data":{"name":"bands"},"transform":[{"filter":"datum.band === 'CNM'"}],
 "mark":{"type":"area","interpolate":"monotone","fill":{"gradient":"linear","x1":0,"y1":0,"x2":1.0688,"y2":0.08,"stops":[
{"offset":0,"color":"#000000"},{"offset":0.0078,"color":"rgba(0,0,0,0)"},{"offset":0.0156,"color":"#000000"},{"offset":0.0234,"color":"rgba(0,0,0,0)"},
{"offset":0.0313,"color":"#000000"},{"offset":0.0391,"color":"rgba(0,0,0,0)"},{"offset":0.0469,"color":"#000000"},{"offset":0.0547,"color":"rgba(0,0,0,0)"},
{"offset":0.0625,"color":"#000000"},{"offset":0.0703,"color":"rgba(0,0,0,0)"},{"offset":0.0781,"color":"#000000"},{"offset":0.0859,"color":"rgba(0,0,0,0)"},
{"offset":0.0938,"color":"#000000"},{"offset":0.1016,"color":"rgba(0,0,0,0)"},{"offset":0.1094,"color":"#000000"},{"offset":0.1172,"color":"rgba(0,0,0,0)"},
{"offset":0.125,"color":"#000000"},{"offset":0.1328,"color":"rgba(0,0,0,0)"},{"offset":0.1406,"color":"#000000"},{"offset":0.1484,"color":"rgba(0,0,0,0)"},
{"offset":0.1563,"color":"#000000"},{"offset":0.1641,"color":"rgba(0,0,0,0)"},{"offset":0.1719,"color":"#000000"},{"offset":0.1797,"color":"rgba(0,0,0,0)"},
{"offset":0.1875,"color":"#000000"},{"offset":0.1953,"color":"rgba(0,0,0,0)"},{"offset":0.2031,"color":"#000000"},{"offset":0.2109,"color":"rgba(0,0,0,0)"},
{"offset":0.2188,"color":"#000000"},{"offset":0.2266,"color":"rgba(0,0,0,0)"},{"offset":0.2344,"color":"#000000"},{"offset":0.2422,"color":"rgba(0,0,0,0)"},
{"offset":0.25,"color":"#000000"},{"offset":0.2578,"color":"rgba(0,0,0,0)"},{"offset":0.2656,"color":"#000000"},{"offset":0.2734,"color":"rgba(0,0,0,0)"},
{"offset":0.2813,"color":"#000000"},{"offset":0.2891,"color":"rgba(0,0,0,0)"},{"offset":0.2969,"color":"#000000"},{"offset":0.3047,"color":"rgba(0,0,0,0)"},
{"offset":0.3125,"color":"#000000"},{"offset":0.3203,"color":"rgba(0,0,0,0)"},{"offset":0.3281,"color":"#000000"},{"offset":0.3359,"color":"rgba(0,0,0,0)"},
{"offset":0.3438,"color":"#000000"},{"offset":0.3516,"color":"rgba(0,0,0,0)"},{"offset":0.3594,"color":"#000000"},{"offset":0.3672,"color":"rgba(0,0,0,0)"},
{"offset":0.375,"color":"#000000"},{"offset":0.3828,"color":"rgba(0,0,0,0)"},{"offset":0.3906,"color":"#000000"},{"offset":0.3984,"color":"rgba(0,0,0,0)"},
{"offset":0.4063,"color":"#000000"},{"offset":0.4141,"color":"rgba(0,0,0,0)"},{"offset":0.4219,"color":"#000000"},{"offset":0.4297,"color":"rgba(0,0,0,0)"},
{"offset":0.4375,"color":"#000000"},{"offset":0.4453,"color":"rgba(0,0,0,0)"},{"offset":0.4531,"color":"#000000"},{"offset":0.4609,"color":"rgba(0,0,0,0)"},
{"offset":0.4688,"color":"#000000"},{"offset":0.4766,"color":"rgba(0,0,0,0)"},{"offset":0.4844,"color":"#000000"},{"offset":0.4922,"color":"rgba(0,0,0,0)"},
{"offset":0.5,"color":"#000000"},{"offset":0.5078,"color":"rgba(0,0,0,0)"},{"offset":0.5156,"color":"#000000"},{"offset":0.5234,"color":"rgba(0,0,0,0)"},
{"offset":0.5313,"color":"#000000"},{"offset":0.5391,"color":"rgba(0,0,0,0)"},{"offset":0.5469,"color":"#000000"},{"offset":0.5547,"color":"rgba(0,0,0,0)"},
{"offset":0.5625,"color":"#000000"},{"offset":0.5703,"color":"rgba(0,0,0,0)"},{"offset":0.5781,"color":"#000000"},{"offset":0.5859,"color":"rgba(0,0,0,0)"},
{"offset":0.5938,"color":"#000000"},{"offset":0.6016,"color":"rgba(0,0,0,0)"},{"offset":0.6094,"color":"#000000"},{"offset":0.6172,"color":"rgba(0,0,0,0)"},
{"offset":0.625,"color":"#000000"},{"offset":0.6328,"color":"rgba(0,0,0,0)"},{"offset":0.6406,"color":"#000000"},{"offset":0.6484,"color":"rgba(0,0,0,0)"},
{"offset":0.6563,"color":"#000000"},{"offset":0.6641,"color":"rgba(0,0,0,0)"},{"offset":0.6719,"color":"#000000"},{"offset":0.6797,"color":"rgba(0,0,0,0)"},
{"offset":0.6875,"color":"#000000"},{"offset":0.6953,"color":"rgba(0,0,0,0)"},{"offset":0.7031,"color":"#000000"},{"offset":0.7109,"color":"rgba(0,0,0,0)"},
{"offset":0.7188,"color":"#000000"},{"offset":0.7266,"color":"rgba(0,0,0,0)"},{"offset":0.7344,"color":"#000000"},{"offset":0.7422,"color":"rgba(0,0,0,0)"},
{"offset":0.75,"color":"#000000"},{"offset":0.7578,"color":"rgba(0,0,0,0)"},{"offset":0.7656,"color":"#000000"},{"offset":0.7734,"color":"rgba(0,0,0,0)"},
{"offset":0.7813,"color":"#000000"},{"offset":0.7891,"color":"rgba(0,0,0,0)"},{"offset":0.7969,"color":"#000000"},{"offset":0.8047,"color":"rgba(0,0,0,0)"},
{"offset":0.8125,"color":"#000000"},{"offset":0.8203,"color":"rgba(0,0,0,0)"},{"offset":0.8281,"color":"#000000"},{"offset":0.8359,"color":"rgba(0,0,0,0)"},
{"offset":0.8438,"color":"#000000"},{"offset":0.8516,"color":"rgba(0,0,0,0)"},{"offset":0.8594,"color":"#000000"},{"offset":0.8672,"color":"rgba(0,0,0,0)"},
{"offset":0.875,"color":"#000000"},{"offset":0.8828,"color":"rgba(0,0,0,0)"},{"offset":0.8906,"color":"#000000"},{"offset":0.8984,"color":"rgba(0,0,0,0)"},
{"offset":0.9063,"color":"#000000"},{"offset":0.9141,"color":"rgba(0,0,0,0)"},{"offset":0.9219,"color":"#000000"},{"offset":0.9297,"color":"rgba(0,0,0,0)"},
{"offset":0.9375,"color":"#000000"},{"offset":0.9453,"color":"rgba(0,0,0,0)"},{"offset":0.9531,"color":"#000000"},{"offset":0.9609,"color":"rgba(0,0,0,0)"},
{"offset":0.9688,"color":"#000000"},{"offset":0.9766,"color":"rgba(0,0,0,0)"},{"offset":0.9844,"color":"#000000"},{"offset":0.9922,"color":"rgba(0,0,0,0)"},
{"offset":1,"color":"#000000"}
]}},
 "encoding":{"x":{"field":"ncoll","type":"quantitative","scale":{"domain":[0,18],"nice":false},"axis":null},
  "y":{"field":"lo","type":"quantitative","scale":{"domain":[0,2],"nice":false},"axis":null},"y2":{"field":"hi"}}},
{"data":{"name":"bands"},"transform":[{"filter":"datum.band === 'CNM'"},{"fold":["lo","hi"],"as":["edge","yv"]}],
 "mark":{"type":"line","interpolate":"monotone","stroke":"#000000","strokeWidth":1},
 "encoding":{"x":{"field":"ncoll","type":"quantitative","scale":{"domain":[0,18],"nice":false},"axis":null},
  "y":{"field":"yv","type":"quantitative","scale":{"domain":[0,2],"nice":false},"axis":null},"detail":{"field":"edge"}}},
{"data":{"values":[{}]},"mark":{"type":"text","align":"left","baseline":"middle","font":"Liberation Sans","fontSize":12.5,"color":"#000000"},
 "encoding":{"x":{"datum":1.95,"type":"quantitative","scale":{"domain":[0,18],"nice":false},"axis":null},
  "y":{"datum":1.855,"type":"quantitative","scale":{"domain":[0,2],"nice":false},"axis":null},
  "text":{"value":"dAu @ 200 GeV |y|<0.35"}}},
{"data":{"name":"leg"},"mark":{"type":"point","filled":true,"size":36,"opacity":0},
 "encoding":{
  "shape":{"field":"name","type":"nominal","scale":{"domain":["PHENIX J/Ψ","PHENIX Ψ(2S)","J/Ψ","Ψ(2S)","J/Ψ reg","Ψ(2S) reg","CNM"],"range":[
   "M-4.83,0H4.83M-4.83,-0.6V0.6M4.83,-0.6V0.6M0.75,0A0.75,0.75,0,1,1,-0.75,0A0.75,0.75,0,1,1,0.75,0",
   "M-4.83,0H4.83M-4.83,-0.6V0.6M4.83,-0.6V0.6M-0.7,-0.7H0.7V0.7H-0.7Z",
   "M-4.83,-1.17H4.83V1.17H-4.83ZM-4.2,-1.17L-3,1.17M-2.4,-1.17L-1.2,1.17M-0.6,-1.17L0.6,1.17M1.2,-1.17L2.4,1.17M3,-1.17L4.2,1.17",
   "M-4.83,-1.17H4.83V1.17H-4.83ZM-4.2,-1.17L-3,1.17M-2.4,-1.17L-1.2,1.17M-0.6,-1.17L0.6,1.17M1.2,-1.17L2.4,1.17M3,-1.17L4.2,1.17",
   "M-4.83,-1.17H4.83V1.17H-4.83Z",
   "M-4.83,-1.17H4.83V1.17H-4.83Z",
   "M-4.83,-1.17H4.83V1.17H-4.83Z"]},
   "legend":{"orient":"none","direction":"vertical","legendX":170,"legendY":18.75,"title":null,"labelFont":"Liberation Sans","labelFontSize":10.5,"labelColor":"#000000","symbolSize":36,"symbolOffset":9.25,"labelOffset":25.5,"rowPadding":0,"padding":0,"symbolStrokeWidth":1,"symbolOpacity":1,"labelLimit":200}},
  "fill":{"field":"name","type":"nominal","scale":{"domain":["PHENIX J/Ψ","PHENIX Ψ(2S)","J/Ψ","Ψ(2S)","J/Ψ reg","Ψ(2S) reg","CNM"],"range":["#ff0000","#0000ff","#ffd0d0","#d0d0ff","#ffffff","#a9d3ff","#444444"]},
   "legend":{"orient":"none","direction":"vertical","legendX":170,"legendY":18.75,"title":null,"labelFont":"Liberation Sans","labelFontSize":10.5,"labelColor":"#000000","symbolSize":36,"symbolOffset":9.25,"labelOffset":25.5,"rowPadding":0,"padding":0,"symbolStrokeWidth":1,"symbolOpacity":1,"labelLimit":200}},
  "stroke":{"field":"name","type":"nominal","scale":{"domain":["PHENIX J/Ψ","PHENIX Ψ(2S)","J/Ψ","Ψ(2S)","J/Ψ reg","Ψ(2S) reg","CNM"],"range":["#ff5a5a","#7272ff","#ff0000","#0000ff","#ff9933","#2b8cff","#000000"]},
   "legend":{"orient":"none","direction":"vertical","legendX":170,"legendY":18.75,"title":null,"labelFont":"Liberation Sans","labelFontSize":10.5,"labelColor":"#000000","symbolSize":36,"symbolOffset":9.25,"labelOffset":25.5,"rowPadding":0,"padding":0,"symbolStrokeWidth":1,"symbolOpacity":1,"labelLimit":200}}
 }}
],
"config":{
 "view":{"stroke":"#000000","strokeWidth":1},
 "axis":{"labelFont":"Liberation Sans","titleFont":"Liberation Sans","labelColor":"#000000","titleColor":"#000000","tickColor":"#000000","domainColor":"#000000","grid":false,"titleFontWeight":"normal","zindex":1},
 "legend":{"labelFont":"Liberation Sans"}
}
}
